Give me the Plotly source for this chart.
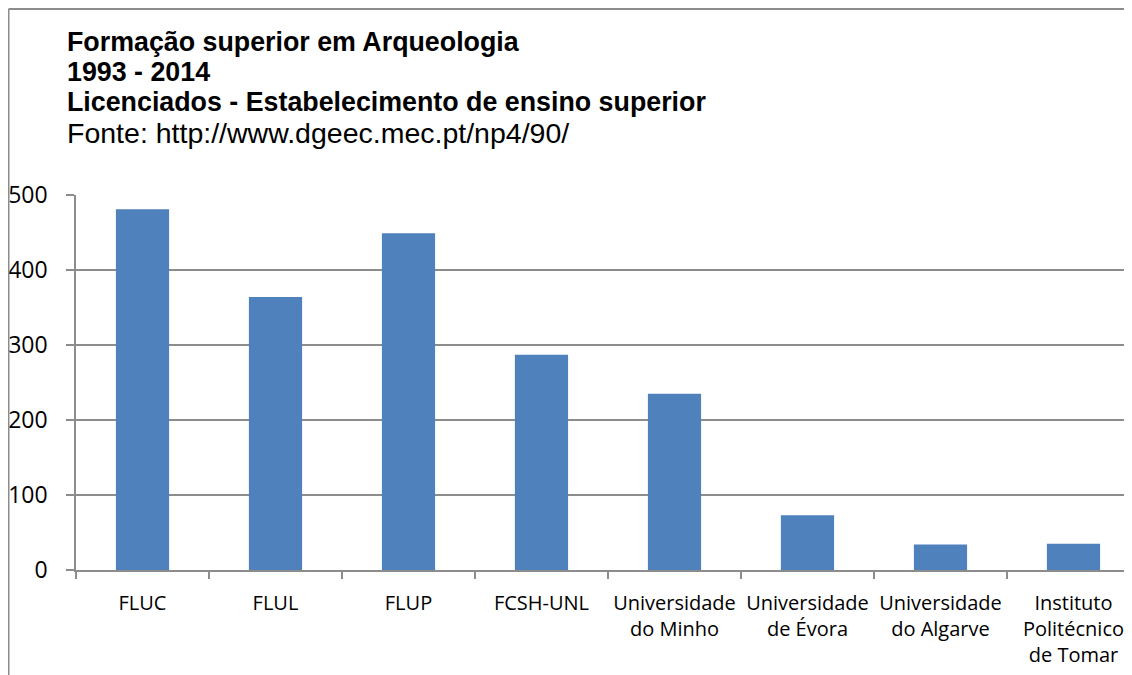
import plotly.graph_objects as go

categories = [
    "FLUC", "FLUL", "FLUP", "FCSH-UNL",
    "Universidade<br>do Minho", "Universidade<br>de Évora",
    "Universidade<br>do Algarve", "Instituto<br>Politécnico<br>de Tomar",
]
licenciados = [481, 364, 449, 287, 235, 73, 34, 35]
y_ticks = [0, 100, 200, 300, 400, 500]

title_lines = [
    "<b>Formação superior em Arqueologia</b>",
    "<b>1993 - 2014</b>",
    "<b>Licenciados - Estabelecimento de ensino superior</b>",
    "Fonte: http://www.dgeec.mec.pt/np4/90/",
]
title_sizes = [26.8, 26.8, 26.8, 28.5]
title_centres = [42, 72, 102, 133]  # page px

# page is drawn with an 8px body margin, so figure coords = page coords - 8
W, H = 1124, 667
OFF = 8
FONT = "'Open Sans', sans-serif"
TITLE_FONT = "'Liberation Sans', Arial, sans-serif"
GRID = "#8c8c8c"

L, T = 76 - OFF, 195 - OFF
B = H - (570 - OFF)
plot_w, plot_h = W - L, H - T - B

fig = go.Figure()
fig.add_trace(go.Bar(
    x=categories, y=licenciados,
    marker_color="#4F81BD", marker_line_width=0,
))

fig.update_layout(
    width=W, height=H,
    margin=dict(l=L, r=0, t=T, b=B, pad=0, autoexpand=False),
    paper_bgcolor="white", plot_bgcolor="white",
    bargap=0.6, showlegend=False,
    font=dict(family=FONT, color="black"),
)
fig.update_xaxes(
    range=[-0.5, 7.44], tickangle=0, automargin=False,
    showline=True, linecolor=GRID, linewidth=1.5,
    ticks="outside", tickson="boundaries", ticklen=7, tickcolor=GRID, tickwidth=1.5,
    tickfont=dict(size=20), ticklabelstandoff=14, showgrid=False,
)
fig.update_yaxes(
    range=[0, 500], tickvals=y_ticks, automargin=False,
    showline=True, linecolor=GRID, linewidth=1.5,
    showgrid=True, gridcolor=GRID, gridwidth=1.5,
    ticks="outside", ticklen=8, tickcolor=GRID, tickwidth=1.5,
    tickfont=dict(size=23), ticklabelstandoff=14, zeroline=False,
)

for line, size, yc in zip(title_lines, title_sizes, title_centres):
    fig.add_annotation(
        text=line, xref="paper", yref="paper", showarrow=False,
        x=(66 - 76) / plot_w, y=1 + (195 - yc) / plot_h,
        xanchor="left", yanchor="middle", borderpad=0,
        font=dict(size=size, family=TITLE_FONT),
    )

# chart border (cropped at right and bottom; left edge sits at the page margin)
bx = (8.5 - 76) / plot_w
by = 1 + (195 - 9) / plot_h
fig.add_shape(type="line", xref="paper", yref="paper",
              x0=bx, x1=1.05, y0=by, y1=by,
              line=dict(color=GRID, width=2))
fig.add_shape(type="line", xref="paper", yref="paper",
              x0=bx, x1=bx, y0=by, y1=-0.4,
              line=dict(color=GRID, width=2))

fig.write_html("out.html")
